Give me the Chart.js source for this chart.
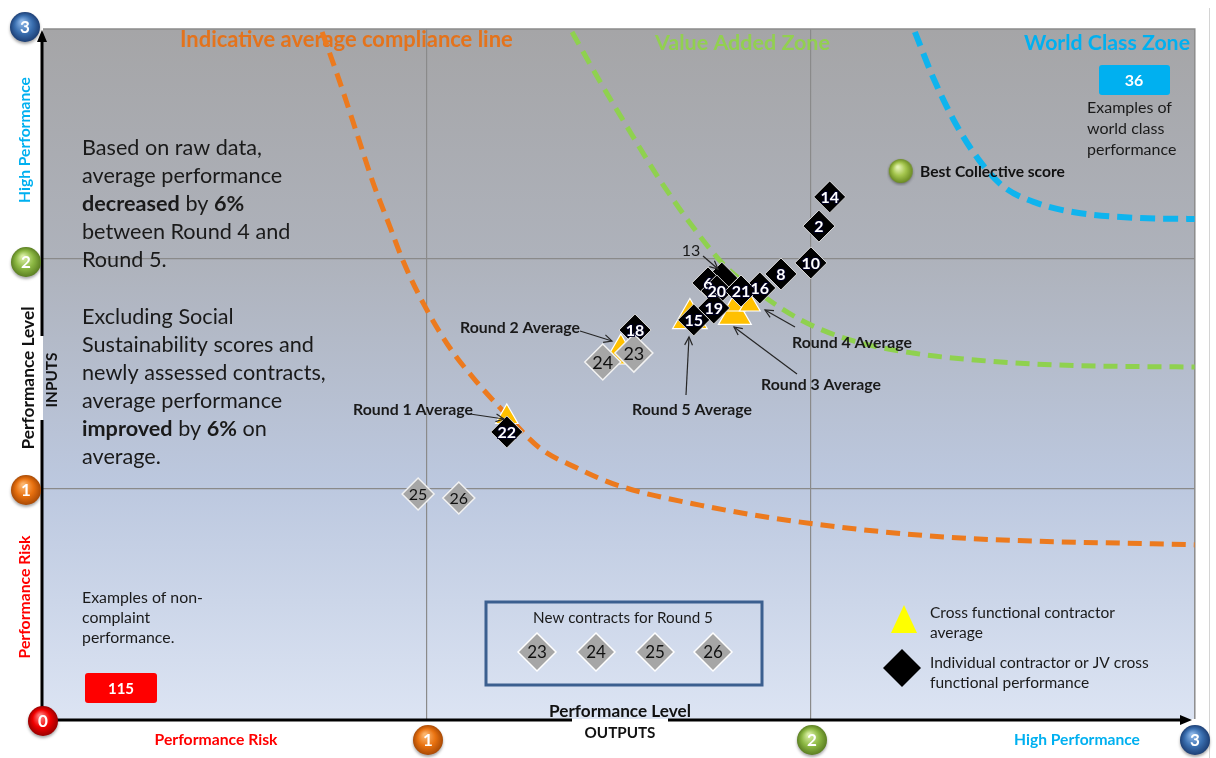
<!DOCTYPE html>
<html><head><meta charset="utf-8">
<script src="https://cdn.jsdelivr.net/npm/chart.js@4.4.1/dist/chart.umd.min.js"></script>
<style>html,body{margin:0;padding:0;background:#fff;overflow:hidden}canvas{display:block}</style>
</head><body>
<canvas id="c" width="1216" height="758"></canvas>
<script>
// ---------- data ----------
const axisTicks = [0, 1, 2, 3];

const orangeCurveX = [0.727,0.773,0.818,0.859,0.904,0.938,0.990,1.060,1.130,1.208,1.294,1.391,1.495,1.711,2.0,2.362,3.0];
const orangeCurveY = [2.987,2.770,2.543,2.335,2.139,1.991,1.809,1.613,1.465,1.322,1.178,1.091,1.017,0.930,0.850,0.790,0.757];
const greenCurveX = [1.378,1.453,1.531,1.607,1.693,1.779,1.865,1.974,2.102,2.266,2.427,2.643,3.0];
const greenCurveY = [2.987,2.765,2.548,2.343,2.139,1.965,1.852,1.735,1.648,1.591,1.561,1.539,1.530];
const blueCurveX = [2.271,2.318,2.372,2.438,2.503,2.589,2.698,2.859,3.0];
const blueCurveY = [2.987,2.791,2.604,2.430,2.313,2.243,2.200,2.178,2.174];

const contractorIds = ['14','2','10','8','16','13','6','20','21','19','15','18','22'];
const contractorX = [2.049,2.021,2.000,1.922,1.867,1.768,1.732,1.755,1.818,1.747,1.695,1.542,1.208];
const contractorY = [2.270,2.143,1.983,1.935,1.874,1.917,1.896,1.861,1.861,1.787,1.735,1.691,1.248];

const newContractIds = ['24','23','25','26'];
const newContractX = [1.458,1.539,0.977,1.083];
const newContractY = [1.552,1.591,0.978,0.961];

const roundNames = ['Round 5','Round 1','Round 2','Round 3','','Round 4'];
const roundX = [1.685,1.208,1.505,1.802,1.802,1.841];
const roundY = [1.741,1.313,1.587,1.757,1.800,1.800];

const bestScoreX = [2.234];
const bestScoreY = [2.378];

const nonCompliantCount = '115';
const worldClassCount = '36';

// ---------- helpers ----------
const F = 'Lato, "Open Sans", sans-serif';
const pts = (xs, ys) => xs.map((x, i) => ({x, y: ys[i]}));

function fitSize(ctx, s, width, bold) {
  ctx.save();
  ctx.font = (bold ? 'bold ' : '') + '100px ' + F;
  const w = ctx.measureText(s).width;
  ctx.restore();
  return 100 * width / w;
}
function ball(ctx, x, y, r, light, mid, dark, label) {
  ctx.save();
  ctx.shadowColor = 'rgba(0,0,0,0.35)'; ctx.shadowBlur = 3; ctx.shadowOffsetY = 2;
  const g = ctx.createRadialGradient(x - r*0.2, y - r*0.35, r*0.1, x, y, r);
  g.addColorStop(0, light); g.addColorStop(0.55, mid); g.addColorStop(1, dark);
  ctx.fillStyle = g; ctx.beginPath(); ctx.arc(x, y, r, 0, Math.PI*2); ctx.fill();
  ctx.restore();
  ctx.save();
  ctx.fillStyle = '#fff'; ctx.font = 'bold 17px ' + F;
  ctx.textAlign = 'center'; ctx.textBaseline = 'middle';
  ctx.fillText(label, x, y + 1);
  ctx.restore();
}
function arrow(ctx, x1, y1, x2, y2) {
  ctx.save();
  ctx.strokeStyle = '#262626'; ctx.lineWidth = 1.2;
  ctx.beginPath(); ctx.moveTo(x1, y1); ctx.lineTo(x2, y2); ctx.stroke();
  const a = Math.atan2(y2 - y1, x2 - x1), L = 9;
  ctx.beginPath();
  ctx.moveTo(x2 - L*Math.cos(a - 0.45), y2 - L*Math.sin(a - 0.45));
  ctx.lineTo(x2, y2);
  ctx.lineTo(x2 - L*Math.cos(a + 0.45), y2 - L*Math.sin(a + 0.45));
  ctx.stroke();
  ctx.restore();
}
function text(ctx, s, x, y, size, bold, color, align) {
  ctx.save();
  ctx.font = (bold ? 'bold ' : '') + size + 'px ' + F;
  ctx.fillStyle = color; ctx.textAlign = align || 'left'; ctx.textBaseline = 'middle';
  ctx.fillText(s, x, y);
  ctx.restore();
}
function fitText(ctx, s, x, y, width, bold, color, align) {
  text(ctx, s, x, y, fitSize(ctx, s, width, bold), bold, color, align);
}
function vtext(ctx, s, x, y, width, bold, color) {
  const size = fitSize(ctx, s, width, bold);
  ctx.save();
  ctx.translate(x, y); ctx.rotate(-Math.PI/2);
  ctx.font = (bold ? 'bold ' : '') + size + 'px ' + F;
  ctx.fillStyle = color; ctx.textAlign = 'center'; ctx.textBaseline = 'middle';
  ctx.fillText(s, 0, 0);
  ctx.restore();
}
function rich(ctx, segs, x, y, size, color) {
  ctx.save(); ctx.textBaseline = 'middle'; ctx.fillStyle = color;
  let cx = x;
  for (const [t, b] of segs) {
    ctx.font = (b ? 'bold ' : '') + size + 'px ' + F;
    ctx.fillText(t, cx, y);
    cx += ctx.measureText(t).width;
  }
  ctx.restore();
}
function roundRect(ctx, x, y, w, h, r, fill) {
  ctx.save(); ctx.fillStyle = fill; ctx.beginPath();
  ctx.roundRect(x, y, w, h, r); ctx.fill(); ctx.restore();
}
function diamond(ctx, x, y, r, fill, stroke) {
  ctx.save(); ctx.beginPath();
  ctx.moveTo(x - r, y); ctx.lineTo(x, y - r); ctx.lineTo(x + r, y); ctx.lineTo(x, y + r); ctx.closePath();
  ctx.fillStyle = fill; ctx.fill();
  if (stroke) { ctx.strokeStyle = stroke; ctx.lineWidth = 1.5; ctx.stroke(); }
  ctx.restore();
}

// ---------- plugins ----------
const bgPlugin = {
  id: 'bg',
  beforeDraw(chart) {
    const {ctx, chartArea: a} = chart;
    ctx.save();
    const g = ctx.createLinearGradient(0, a.top, 0, a.bottom);
    g.addColorStop(0, '#a5a5a7');
    g.addColorStop(0.33, '#aeb2bb');
    g.addColorStop(0.66, '#bcc8df');
    g.addColorStop(1, '#dce4f3');
    ctx.fillStyle = g;
    ctx.fillRect(a.left, a.top, a.right - a.left, a.bottom - a.top);
    ctx.fillStyle = '#d4d4d4';
    ctx.fillRect(1209, 8, 1, 750);
    ctx.restore();
  },
  beforeDatasetsDraw(chart) {
    const {ctx, chartArea: a} = chart;
    ctx.save();
    ctx.strokeStyle = '#8c8c8c'; ctx.lineWidth = 1.5;
    ctx.beginPath();
    ctx.moveTo(a.left, a.top); ctx.lineTo(a.right, a.top); ctx.lineTo(a.right, a.bottom);
    ctx.stroke();
    ctx.restore();
    // zone titles
    fitText(ctx, 'Indicative average compliance line', 180, 40, 333, true, '#e4731c', 'left');
    fitText(ctx, 'Value Added Zone', 655, 43, 175, true, '#92d050', 'left');
    fitText(ctx, 'World Class Zone', 1190, 43, 166, true, '#00b0f0', 'right');
    // left text blocks
    const s = fitSize(ctx, 'Based on raw data,', 180, false), c = '#1a1a1a';
    rich(ctx, [['Based on raw data,', 0]], 82, 148, s, c);
    rich(ctx, [['average performance', 0]], 82, 176, s, c);
    rich(ctx, [['decreased', 1], [' by ', 0], ['6%', 1]], 82, 204, s, c);
    rich(ctx, [['between Round 4 and', 0]], 82, 232, s, c);
    rich(ctx, [['Round 5.', 0]], 82, 260, s, c);
    rich(ctx, [['Excluding Social', 0]], 82, 317, s, c);
    rich(ctx, [['Sustainability scores and', 0]], 82, 345, s, c);
    rich(ctx, [['newly assessed contracts,', 0]], 82, 373, s, c);
    rich(ctx, [['average performance', 0]], 82, 401, s, c);
    rich(ctx, [['improved', 1], [' by ', 0], ['6%', 1], [' on', 0]], 82, 429, s, c);
    rich(ctx, [['average.', 0]], 82, 457, s, c);
    // non-compliant examples
    const s2 = fitSize(ctx, 'Examples of non-', 121, false);
    text(ctx, 'Examples of non-', 82, 598, s2, false, c);
    text(ctx, 'complaint', 82, 618, s2, false, c);
    text(ctx, 'performance.', 82, 638, s2, false, c);
    roundRect(ctx, 85, 673, 72, 30, 3, '#ff0000');
    text(ctx, nonCompliantCount, 121, 689, 15, true, '#fff', 'center');
    // world class examples
    roundRect(ctx, 1099, 65, 71, 30, 3, '#00b0f0');
    text(ctx, worldClassCount, 1134, 81, 16, true, '#fff', 'center');
    const s3 = fitSize(ctx, 'Examples of', 85, false);
    text(ctx, 'Examples of', 1087, 108, s3, false, c);
    text(ctx, 'world class', 1087, 129, s3, false, c);
    text(ctx, 'performance', 1087, 150, s3, false, c);
    // new contracts box
    ctx.save();
    ctx.strokeStyle = '#3b5f8f'; ctx.lineWidth = 3;
    ctx.strokeRect(486, 602, 276, 83);
    ctx.restore();
    fitText(ctx, 'New contracts for Round 5', 623, 618, 180, false, c, 'center');
    const nx = [537, 596, 655, 713];
    ['23','24','25','26'].forEach((id, i) => {
      diamond(ctx, nx[i], 652, 19, '#a6a6a6', '#ffffff');
      text(ctx, id, nx[i], 653, 17, false, '#111', 'center');
    });
    // legend
    ctx.save();
    ctx.fillStyle = '#ffff00';
    ctx.beginPath(); ctx.moveTo(904, 605); ctx.lineTo(917, 633); ctx.lineTo(891, 633); ctx.closePath(); ctx.fill();
    ctx.restore();
    const s4 = fitSize(ctx, 'Cross functional contractor', 185, false);
    text(ctx, 'Cross functional contractor', 930, 613, s4, false, c);
    text(ctx, 'average', 930, 633, s4, false, c);
    diamond(ctx, 902, 668, 19, '#000', null);
    text(ctx, 'Individual contractor or JV cross', 930, 663, s4, false, c);
    text(ctx, 'functional performance', 930, 683, s4, false, c);
    fitText(ctx, 'Performance Level', 620, 711, 142, true, '#111', 'center');
  },
  afterDatasetsDraw(chart) {
    const {ctx} = chart;
    const m = chart.getDatasetMeta(2);
    m.data.forEach((el, i) => {
      const id = contractorIds[i];
      if (id === '13') return;
      ctx.save();
      ctx.font = 'bold 16px ' + F; ctx.textAlign = 'center'; ctx.textBaseline = 'middle';
      ctx.lineWidth = 2; ctx.strokeStyle = 'rgba(0,0,40,0.9)';
      ctx.strokeText(id, el.x, el.y + 1);
      ctx.fillStyle = '#fff'; ctx.fillText(id, el.x, el.y + 1);
      ctx.restore();
    });
    const g = chart.getDatasetMeta(1);
    g.data.forEach((el, i) => {
      text(ctx, newContractIds[i], el.x, el.y + 1, i < 2 ? 18 : 16, false, '#111', 'center');
    });
    fitText(ctx, 'Best Collective score', 920, 172, 145, true, '#111', 'left');
    const dc = '#1a1a1a';
    const rs = fitSize(ctx, 'Round 1 Average', 120, true);
    text(ctx, 'Round 1 Average', 413, 410, rs, true, dc, 'center');
    arrow(ctx, 470, 414, 504, 419);
    text(ctx, 'Round 2 Average', 520, 328, rs, true, dc, 'center');
    arrow(ctx, 580, 331, 612, 341);
    text(ctx, '13', 691, 251, 16, false, dc, 'center');
    arrow(ctx, 703, 256, 718, 269);
    text(ctx, 'Round 5 Average', 692, 410, rs, true, dc, 'center');
    arrow(ctx, 686, 395, 689, 337);
    text(ctx, 'Round 3 Average', 821, 385, rs, true, dc, 'center');
    arrow(ctx, 797, 374, 734, 327);
    text(ctx, 'Round 4 Average', 852, 343, rs, true, dc, 'center');
    arrow(ctx, 795, 327, 765, 310);
  },
  afterDraw(chart) {
    const {ctx} = chart;
    ctx.save();
    ctx.strokeStyle = '#000'; ctx.lineWidth = 3;
    ctx.beginPath();
    ctx.moveTo(42, 720); ctx.lineTo(42, 420);
    ctx.moveTo(42, 336); ctx.lineTo(42, 40);
    ctx.moveTo(42, 720); ctx.lineTo(572, 720);
    ctx.moveTo(668, 720); ctx.lineTo(1182, 720);
    ctx.stroke();
    ctx.fillStyle = '#000';
    ctx.beginPath(); ctx.moveTo(42, 30); ctx.lineTo(47, 42); ctx.lineTo(37, 42); ctx.closePath(); ctx.fill();
    ctx.beginPath(); ctx.moveTo(1192, 720); ctx.lineTo(1180, 715); ctx.lineTo(1180, 725); ctx.closePath(); ctx.fill();
    ctx.restore();
    vtext(ctx, 'High Performance', 25, 140, 126, true, '#00b0f0');
    vtext(ctx, 'Performance Level', 28, 378, 143, true, '#111');
    vtext(ctx, 'INPUTS', 52, 380, 55, true, '#111');
    vtext(ctx, 'Performance Risk', 25, 597, 123, true, '#ff0000');
    fitText(ctx, 'Performance Risk', 216, 740, 123, true, '#ff0000', 'center');
    fitText(ctx, 'OUTPUTS', 620, 733, 71, true, '#111', 'center');
    fitText(ctx, 'High Performance', 1077, 740, 126, true, '#00b0f0', 'center');
    const blue = ['#8ab4e6', '#3a6fb0', '#1d3f75'];
    const green = ['#d6eca0', '#8cb843', '#5b7f22'];
    const orange = ['#fbb36a', '#e8710f', '#a94a05'];
    const red = ['#ff7a7a', '#f00000', '#9a0000'];
    ball(ctx, 25, 27, 15, ...blue, String(axisTicks[3]));
    ball(ctx, 26, 262, 15, ...green, String(axisTicks[2]));
    ball(ctx, 26, 490, 15, ...orange, String(axisTicks[1]));
    ball(ctx, 43, 721, 15, ...red, String(axisTicks[0]));
    ball(ctx, 428, 740, 15, ...orange, String(axisTicks[1]));
    ball(ctx, 812, 740, 15, ...green, String(axisTicks[2]));
    ball(ctx, 1195, 740, 15, ...blue, String(axisTicks[3]));
  }
};

function sphereStyle() {
  const c = document.createElement('canvas');
  c.width = 28; c.height = 28;
  const g = c.getContext('2d');
  g.shadowColor = 'rgba(0,0,0,0.35)'; g.shadowBlur = 3; g.shadowOffsetY = 1.5;
  const gr = g.createRadialGradient(11, 9, 1, 14, 13, 12);
  gr.addColorStop(0, '#e4f2b4'); gr.addColorStop(0.5, '#a5c64e'); gr.addColorStop(1, '#6a8a22');
  g.fillStyle = gr; g.beginPath(); g.arc(14, 13, 12, 0, Math.PI * 2); g.fill();
  return c;
}

const dashed = (xs, ys, color, w, dash, ord) => ({
  type: 'line', data: pts(xs, ys), borderColor: color, borderWidth: w, borderDash: dash,
  pointRadius: 0, showLine: true, cubicInterpolationMode: 'monotone', fill: false, order: ord
});

new Chart(document.getElementById('c'), {
  type: 'scatter',
  data: {
    datasets: [
      { data: pts(bestScoreX, bestScoreY), pointStyle: sphereStyle(), pointRadius: 12, order: 1 },
      { data: pts(newContractX, newContractY), pointStyle: 'rectRot',
        pointRadius: [18, 19, 16, 16], backgroundColor: '#a6a6a6', borderColor: '#f2f2f2', borderWidth: 1.5, order: 2 },
      { data: pts(contractorX, contractorY), pointStyle: 'rectRot',
        pointRadius: 16, backgroundColor: '#000', borderColor: '#d9d9d9', borderWidth: 1, order: 3 },
      { data: pts(roundX, roundY), pointStyle: 'triangle',
        pointRadius: [20, 13, 20, 19, 12, 12], backgroundColor: '#ffc000', borderColor: '#ffffff', borderWidth: 1.2, order: 4 },
      dashed(orangeCurveX, orangeCurveY, '#ec7a1e', 5, [14, 8], 5),
      dashed(greenCurveX, greenCurveY, '#8fd14f', 5, [14, 8], 6),
      dashed(blueCurveX, blueCurveY, '#0fb4ee', 6, [15, 8], 7)
    ]
  },
  options: {
    responsive: false, animation: false, devicePixelRatio: 1,
    layout: { padding: { left: 43, top: 29, right: 21, bottom: 39 } },
    plugins: { legend: { display: false }, tooltip: { enabled: false } },
    scales: {
      x: { type: 'linear', min: 0, max: 3, ticks: { display: false, stepSize: 1 },
           grid: { drawTicks: false, lineWidth: 1.2, color: c => (c.tick && (c.tick.value === 1 || c.tick.value === 2)) ? '#8a8a8a' : 'rgba(0,0,0,0)' },
           border: { display: false } },
      y: { type: 'linear', min: 0, max: 3, ticks: { display: false, stepSize: 1 },
           grid: { drawTicks: false, lineWidth: 1.2, color: c => (c.tick && (c.tick.value === 1 || c.tick.value === 2)) ? '#8a8a8a' : 'rgba(0,0,0,0)' },
           border: { display: false } }
    }
  },
  plugins: [bgPlugin]
});
</script>
</body></html>
